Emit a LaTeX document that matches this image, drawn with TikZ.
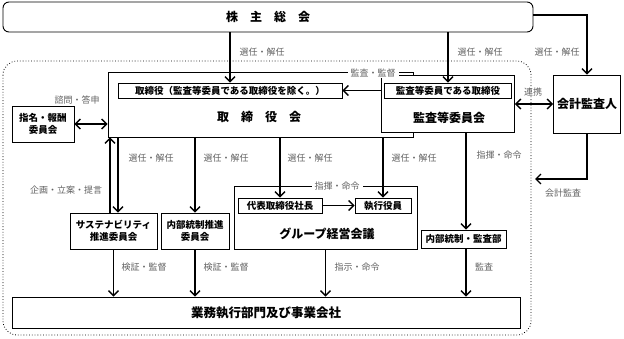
\documentclass[tikz,border=0pt]{standalone}
\usepackage{fontspec}
\setmainfont{Noto Sans CJK JP}
\usetikzlibrary{arrows.meta,calc}
\begin{document}
\begin{tikzpicture}[x=1pt,y=-1pt,
  box/.style={draw,line width=0.9pt,fill=white,inner sep=0pt,align=center,
    font=\bfseries\fontsize{9.5}{11.5}\selectfont},
  bigtxt/.style={inner sep=0pt,font=\bfseries\fontsize{12}{14}\selectfont},
  arr/.style={line width=1.3pt,-{Straight Barb[length=5pt,width=10pt]}},
  darr/.style={line width=1.3pt,{Straight Barb[length=5pt,width=10pt]}-{Straight Barb[length=5pt,width=10pt]}},
  lbl/.style={font=\fontsize{9}{10}\selectfont,text=black!62,inner sep=1pt},
]
\useasboundingbox (0,0) rectangle (624,338);

% dotted company region
\draw[dotted,line width=0.8pt,rounded corners=14pt] (3,61) rectangle (531,335);

% boxes
\node[box,rounded corners=6pt,minimum width=530pt,minimum height=30pt,font=\bfseries\fontsize{12}{14}\selectfont] (sh) at (268,17) {株\hspace{1em}主\hspace{1em}総\hspace{1em}会};

\node[box,minimum width=305pt,minimum height=64.5pt] (tori) at (260.5,104.75) {};
\node[bigtxt] (toriT) at (259,117) {取\hspace{1em}締\hspace{1em}役\hspace{1em}会};
\node[box,minimum width=224pt,minimum height=15pt] (toriIn) at (230,90.5) {取締役（監査等委員である取締役を除く。）};

\node[box,minimum width=133pt,minimum height=56.5pt] (kan) at (448,103.75) {};
\node[bigtxt] (kanT) at (449,118) {監査等委員会};
\node[box,minimum width=127pt,minimum height=15pt] (kanIn) at (448,90.5) {監査等委員である取締役};

\node[box,minimum width=67pt,minimum height=58pt,font=\bfseries\fontsize{12}{14}\selectfont] (kaikei) at (587,104) {会計監査人};

\node[box,minimum width=62pt,minimum height=36pt] (shimei) at (43,124) {指名・報酬\\委員会};

\node[box,minimum width=87pt,minimum height=36pt] (sus) at (113.5,231) {サステナビリティ\\推進委員会};
\node[box,minimum width=68pt,minimum height=36pt] (naibu) at (195,231) {内部統制推進\\委員会};

\node[box,minimum width=183pt,minimum height=63pt] (group) at (325.5,217.5) {};
\node[bigtxt] (groupT) at (327,234) {グループ経営会議};
\node[box,minimum width=84pt,minimum height=15pt] (daihyo) at (280,205.5) {代表取締役社長};
\node[box,minimum width=56pt,minimum height=15pt] (shikko) at (383,205.5) {執行役員};

\node[box,minimum width=85pt,minimum height=18pt] (kansabu) at (463.5,239) {内部統制・監査部};

\node[box,minimum width=508pt,minimum height=31pt,font=\bfseries\fontsize{12.5}{14}\selectfont] (gyomu) at (266,312.5) {業務執行部門及び事業会社};

% connectors
\draw[arr] (toriIn.north |- sh.south) -- (toriIn.north);
\draw[arr] (kanIn.north |- sh.south) -- (kanIn.north);
\draw[arr] ([yshift=2pt]sh.east) -| (kaikei.north);
\coordinate (kaEnd) at (535,179);
\draw[arr] (kaikei.south) |- (kaEnd);
\draw[arr] (kan.west |- toriIn.east) -- (toriIn.east);
\draw[darr] (kan.east |- kaikei.west) -- (kaikei.west);
\draw[darr] (shimei.east) -- (shimei.east -| tori.west);

\coordinate (susA) at ([xshift=-3.5pt]sus.north);
\coordinate (susB) at ([xshift=4.5pt]sus.north);
\draw[arr] (susA) -- (susA |- tori.south);
\draw[arr] (susB |- tori.south) -- (susB);
\draw[arr] (naibu.north |- tori.south) -- (naibu.north);
\draw[arr] (daihyo.north |- tori.south) -- (daihyo.north);
\draw[arr] (shikko.north |- tori.south) -- (shikko.north);
\draw[arr] (daihyo.east) -- (shikko.west);
\coordinate (kbA) at ([xshift=2.5pt]kansabu.north);
\draw[arr] (kbA |- kan.south) -- (kbA);
\draw[arr] (sus.south) -- (sus.south |- gyomu.north);
\draw[arr] (naibu.south) -- (naibu.south |- gyomu.north);
\draw[arr] (group.south) -- (group.south |- gyomu.north);
\draw[arr] (kbA |- kansabu.south) -- (kbA |- gyomu.north);

% labels
\node[lbl] (l1) at (262,52) {選任・解任};
\node[lbl] (l2) at (480,52) {選任・解任};
\node[lbl] (l3) at (557,52) {選任・解任};
\node[lbl,fill=white,inner xsep=3pt] (l4) at (373,73) {監査・監督};
\node[lbl] (l5) at (533,92) {連携};
\node[lbl] (l6) at (77,100) {諮問・答申};
\node[lbl] (l7) at (563,193) {会計監査};
\node[lbl] (l8) at (151,158) {選任・解任};
\node[lbl] (l9) at (226,158) {選任・解任};
\node[lbl] (l10) at (310,158) {選任・解任};
\node[lbl] (l11) at (414,158) {選任・解任};
\node[lbl] (l12) at (499,155) {指揮・命令};
\node[lbl] (l13) at (66,190) {企画・立案・提言};
\node[lbl,fill=white,inner xsep=3pt] (l14) at (337,186) {指揮・命令};
\node[lbl] (l15) at (144,267) {検証・監督};
\node[lbl] (l16) at (226,267) {検証・監督};
\node[lbl] (l17) at (357,267) {指示・命令};
\node[lbl] (l18) at (484,267) {監査};
\end{tikzpicture}
\end{document}
